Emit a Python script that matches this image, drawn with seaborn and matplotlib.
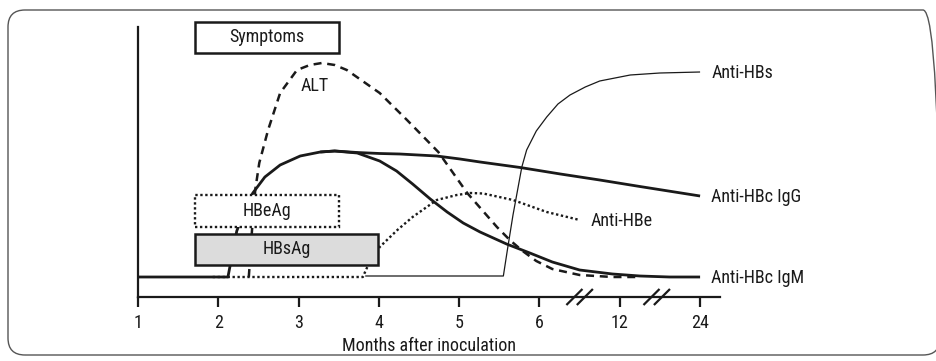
import numpy as np
import pandas as pd
import matplotlib
matplotlib.use("Agg")
import matplotlib.pyplot as plt
import matplotlib.font_manager as fm
from matplotlib.patches import Rectangle, FancyBboxPatch
import seaborn as sns

# ---------------- data (x = month position on the broken axis, y = relative level) ----------------
tick_pos = [1, 2, 3, 4, 5, 6, 7, 8]
tick_labels = ["1", "2", "3", "4", "5", "6", "12", "24"]
axis_breaks = [6.5, 7.46]

igm_x = [0.99, 2.12, 2.18, 2.23, 2.33, 2.43, 2.58, 2.77, 3.02, 3.27, 3.45, 3.73, 4.01, 4.22,
         4.42, 4.64, 4.85, 5.05, 5.26, 5.59, 5.88, 6.16, 6.50, 6.91, 7.25, 7.62, 8.00]
igm_y = [0, 0, 25, 46, 67, 84, 100, 112, 121, 125, 126, 124, 116, 106,
         93, 78, 65, 54, 45, 33, 24, 15, 7, 3, 1, 0, 0]

igg_x = [3.27, 3.45, 3.73, 4.01, 4.26, 4.72, 5.01, 5.26, 5.76, 6.26, 6.75, 7.25, 8.00]
igg_y = [125, 126, 124.5, 123.5, 123, 121, 118, 115, 109.5, 103, 97, 90.5, 81]

alt_x = [2.38, 2.42, 2.46, 2.51, 2.62, 2.77, 2.98, 3.14, 3.29, 3.45, 3.60, 4.01, 4.35,
         4.74, 5.10, 5.47, 5.63, 5.79, 5.96, 6.16, 6.50, 6.91, 7.25]
alt_y = [0, 47, 87, 114, 147, 184, 207, 212, 214, 212, 207, 184, 157,
         125, 84, 50, 37, 26, 16, 8, 2, 0, 0]

hbs_x = [3.83, 5.55, 5.60, 5.67, 5.78, 5.84, 5.96, 6.09, 6.23, 6.38, 6.57, 6.75, 7.13, 7.50, 8.00]
hbs_y = [1, 1, 27, 62, 110, 127, 146, 160, 173, 182, 190, 196, 202, 204, 205]

hbe_x = [1.93, 3.80, 3.85, 3.93, 4.01, 4.23, 4.42, 4.72, 4.97, 5.14, 5.30, 5.67, 6.09, 6.50]
hbe_y = [0, 0, 9, 19, 30, 47, 60, 77, 82, 84, 83.5, 77, 65, 57]

box_labels = ["Symptoms", "HBeAg", "HBsAg"]
box_start = [1.71, 1.71, 1.71]
box_end = [3.50, 3.50, 3.99]
box_low = [224, 50, 12]
box_high = [255, 82, 43]

# ---------------- font choice (condensed sans if available) ----------------
sns.set_theme(style="white")
names = {f.name for f in fm.fontManager.ttflist}
chosen, stretch = None, "normal"
for c in ["Liberation Sans Narrow", "Roboto Condensed", "DejaVu Sans Condensed",
          "Open Sans Condensed", "Noto Sans Condensed", "Arial Narrow"]:
    if c in names:
        chosen = c
        break
if chosen is None:
    for f in fm.fontManager.ttflist:
        fn = f.fname.lower()
        if ("narrow" in fn or "condensed" in fn) and "bold" not in fn and "oblique" not in fn \
                and "italic" not in fn and "mono" not in fn and "serif" not in fn:
            chosen, stretch = f.name, f.stretch
            break
if chosen is None:
    chosen = "Liberation Sans"
plt.rcParams["font.family"] = [chosen, "DejaVu Sans"]
plt.rcParams["font.stretch"] = stretch
FS = 13
plt.rcParams["font.size"] = FS

W, H = 936, 361
fig = plt.figure(figsize=(W / 100, H / 100), dpi=100)
ax = fig.add_axes([138 / W, (H - 297) / H, 582 / W, 270 / H])
ax.set_xlim(1, 8.248)
ax.set_ylim(-20, 250)

K = "#1a1a1a"

def draw(xs, ys, lw, ls, z=3):
    df = pd.DataFrame({"x": xs, "y": ys})
    sns.lineplot(data=df, x="x", y="y", ax=ax, color=K, lw=lw, linestyle=ls,
                 sort=False, estimator=None, legend=False, zorder=z,
                 solid_capstyle="butt", dash_capstyle="butt", clip_on=False)

draw(hbs_x, hbs_y, 0.9, "-", 2)
draw(hbe_x, hbe_y, 1.7, (0, (1.0, 1.1)), 3)
draw(alt_x, alt_y, 1.8, (0, (3.2, 2.3)), 3)
draw(igg_x, igg_y, 2.0, "-", 4)
draw(igm_x, igm_y, 2.0, "-", 4)

# boxes
box_face = ["white", "white", "#dcdcdc"]
box_ls = ["-", (0, (1.0, 1.1)), "-"]
box_lw = [1.8, 1.7, 1.8]
for lab, x0, x1, y0, y1, fc, ls, lw in zip(box_labels, box_start, box_end, box_low, box_high,
                                           box_face, box_ls, box_lw):
    ax.add_patch(Rectangle((x0, y0), x1 - x0, y1 - y0, facecolor=fc, edgecolor=K,
                           lw=lw, linestyle=ls, zorder=6, clip_on=False))
    ax.text((x0 + x1) / 2, (y0 + y1) / 2, lab, ha="center", va="center",
            color=K, zorder=7, fontsize=FS, clip_on=False)

ax.text(3.2, 191, "ALT", ha="center", va="center", color=K, fontsize=FS)

# end labels
for lab, xs, ys in [("Anti-HBs", hbs_x, hbs_y), ("Anti-HBc IgG", igg_x, igg_y),
                    ("Anti-HBe", hbe_x, hbe_y), ("Anti-HBc IgM", igm_x, igm_y)]:
    ax.annotate(lab, xy=(xs[-1], ys[-1]), xytext=(8, -1), textcoords="offset points",
                ha="left", va="center", color=K, fontsize=FS, annotation_clip=False)

# axes
for s in ["top", "right"]:
    ax.spines[s].set_visible(False)
for s in ["left", "bottom"]:
    ax.spines[s].set_color(K)
    ax.spines[s].set_linewidth(1.6)
ax.set_yticks([])
ax.set_xticks(tick_pos)
ax.set_xticklabels(tick_labels)
ax.tick_params(axis="x", direction="out", length=7.5, width=1.6, color=K,
               pad=5, labelsize=FS, labelcolor=K, bottom=True)
ax.set_xlabel("Months after inoculation", fontsize=FS, color=K, labelpad=3.5)
ax.set_ylabel("")

# axis break marks
for b in axis_breaks:
    for off in (-0.065, 0.065):
        ax.plot([b + off - 0.1, b + off + 0.1], [-28, -12], color=K, lw=1.6,
                clip_on=False, zorder=8, solid_capstyle="butt")

# rounded frame
frame = FancyBboxPatch((0.08, 0.06), 9.32, 3.45, boxstyle="round,pad=0,rounding_size=0.17",
                       transform=fig.dpi_scale_trans, facecolor="none",
                       edgecolor="#555555", lw=1.0)
fig.patches.append(frame)

fig.savefig("out.png", dpi=100)
